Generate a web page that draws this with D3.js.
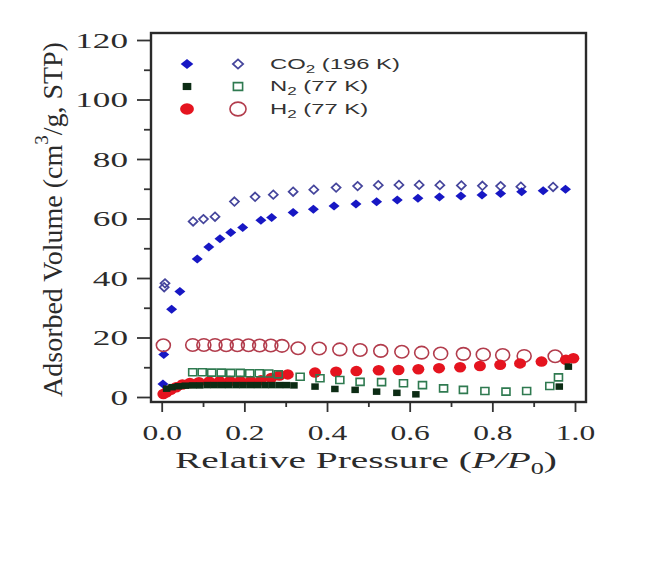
<!DOCTYPE html>
<html>
<head>
<meta charset="utf-8">
<script src="https://cdn.jsdelivr.net/npm/d3@7"></script>
<style>
  body { margin: 0; background: #fff; }
  svg { display: block; }
</style>
</head>
<body>
<svg id="chart" width="647" height="583"></svg>
<script>
// CO2 (196 K) adsorption / desorption
const co2AdsP = [0.003, 0.005, 0.024, 0.044, 0.086, 0.114, 0.141, 0.167, 0.196, 0.240, 0.266, 0.318, 0.367, 0.417, 0.470, 0.520, 0.570, 0.620, 0.672, 0.724, 0.775, 0.820, 0.871, 0.923, 0.977];
const co2AdsV = [4.4, 14.3, 29.5, 35.5, 46.4, 50.4, 53.2, 55.3, 57.0, 59.4, 60.3, 62.0, 63.1, 64.2, 64.9, 65.6, 66.2, 66.8, 67.2, 67.6, 67.9, 68.4, 69.0, 69.3, 69.8];
const co2DesP = [0.006, 0.008, 0.076, 0.101, 0.129, 0.176, 0.226, 0.270, 0.318, 0.368, 0.422, 0.474, 0.524, 0.574, 0.623, 0.673, 0.725, 0.776, 0.820, 0.869, 0.947];
const co2DesV = [36.9, 38.2, 59.0, 59.8, 60.6, 65.7, 67.3, 68.0, 69.0, 69.7, 70.4, 70.9, 71.2, 71.3, 71.3, 71.2, 71.1, 71.0, 70.9, 70.7, 70.6];

// N2 (77 K)
const n2AdsP = [0.012, 0.025, 0.040, 0.057, 0.075, 0.092, 0.110, 0.127, 0.145, 0.162, 0.180, 0.197, 0.215, 0.232, 0.250, 0.267, 0.285, 0.302, 0.320, 0.371, 0.419, 0.468, 0.520, 0.569, 0.615, 0.962, 0.984];
const n2AdsV = [2.8, 3.3, 3.6, 3.8, 3.9, 3.9, 4.0, 4.0, 4.0, 4.0, 4.0, 4.0, 4.0, 4.0, 4.0, 4.0, 4.0, 4.0, 3.9, 3.5, 2.7, 2.4, 1.8, 1.4, 0.9, 3.5, 10.2];
const n2DesP = [0.075, 0.098, 0.121, 0.144, 0.167, 0.190, 0.213, 0.236, 0.259, 0.282, 0.335, 0.383, 0.431, 0.480, 0.532, 0.585, 0.631, 0.682, 0.730, 0.782, 0.833, 0.883, 0.939, 0.960];
const n2DesV = [8.3, 8.3, 8.2, 8.2, 8.1, 8.1, 8.0, 8.0, 7.9, 7.6, 6.8, 6.3, 5.7, 5.1, 5.0, 4.6, 4.0, 2.9, 2.4, 2.0, 1.8, 2.0, 3.7, 6.6];

// H2 (77 K)
const h2AdsP = [0.004, 0.012, 0.022, 0.035, 0.050, 0.068, 0.090, 0.115, 0.140, 0.165, 0.190, 0.215, 0.240, 0.265, 0.285, 0.305, 0.371, 0.422, 0.471, 0.525, 0.573, 0.621, 0.671, 0.722, 0.770, 0.819, 0.867, 0.919, 0.978, 0.996];
const h2AdsV = [1.0, 1.6, 2.4, 3.3, 4.2, 4.7, 5.0, 5.2, 5.3, 5.4, 5.4, 5.4, 5.6, 6.4, 7.2, 7.6, 8.2, 8.5, 8.7, 9.0, 9.1, 9.3, 9.7, 10.0, 10.4, 10.8, 11.3, 11.9, 12.5, 13.0];
const h2DesP = [0.004, 0.075, 0.102, 0.129, 0.156, 0.183, 0.210, 0.237, 0.264, 0.291, 0.330, 0.381, 0.431, 0.480, 0.530, 0.581, 0.629, 0.675, 0.730, 0.778, 0.825, 0.877, 0.952];
const h2DesV = [17.4, 17.5, 17.5, 17.5, 17.4, 17.4, 17.4, 17.3, 17.3, 17.2, 16.4, 16.3, 16.0, 15.8, 15.5, 15.2, 14.9, 14.6, 14.5, 14.3, 14.1, 13.8, 13.7];

const xTicks = [0, 0.2, 0.4, 0.6, 0.8, 1.0];
const xMinor = [0.1, 0.3, 0.5, 0.7, 0.9];
const yTicks = [0, 20, 40, 60, 80, 100, 120];
const yMinor = [10, 30, 50, 70, 90, 110];

const legendRows = [
    { gas: "CO", sub: "2", temp: " (196 K)" },
    { gas: "N", sub: "2", temp: " (77 K)" },
    { gas: "H", sub: "2", temp: " (77 K)" }
];

const SERIF = "'Liberation Serif', 'Times New Roman', serif";
const SANS = "'Liberation Sans', Arial, sans-serif";

const svg = d3.select("#chart");
const frame = { left: 151, right: 586, top: 33, bottom: 402 };
const x = d3.scaleLinear().domain([0, 1]).range([161.7, 575]);
const y = d3.scaleLinear().domain([0, 120]).range([397, 40]);

// marker shapes, all as paths centred on 0,0
const shapes = {
    diamond: (w, h) => `M0,${-h / 2}L${w / 2},0L0,${h / 2}L${-w / 2},0Z`,
    square: (w, h) => `M${-w / 2},${-h / 2}h${w}v${h}h${-w}Z`,
    circle: (w, h) => {
        const rx = w / 2, ry = h / 2;
        return `M${-rx},0a${rx},${ry} 0 1,0 ${2 * rx},0a${rx},${ry} 0 1,0 ${-2 * rx},0Z`;
    }
};

const styles = {
    co2Ads: { shape: "diamond", w: 11, h: 9, fill: "#1717c4", stroke: "none", sw: 0 },
    co2Des: { shape: "diamond", w: 9, h: 8.5, fill: "none", stroke: "#45459c", sw: 1.7 },
    n2Ads: { shape: "square", w: 7.5, h: 6.5, fill: "#0c2c14", stroke: "none", sw: 0 },
    n2Des: { shape: "square", w: 8, h: 7, fill: "none", stroke: "#2f7a50", sw: 1.6 },
    h2Ads: { shape: "circle", w: 12, h: 10.5, fill: "#e5141f", stroke: "none", sw: 0 },
    h2Des: { shape: "circle", w: 14, h: 12.5, fill: "none", stroke: "#b23c4c", sw: 1.6 }
};

function stretchAbout(sel, factor, ax) {
    sel.attr("transform", `translate(${ax},0) scale(${factor},1) translate(${-ax},0)`);
}

// ---- axes ----
function styleAxis(g, size) {
    g.select(".domain").remove();
    g.attr("color", "#333")
        .attr("font-family", SERIF)
        .attr("font-size", size);
    g.selectAll("line").attr("stroke-width", 1.8);
    g.selectAll("text").attr("fill", "#2b2b2b");
}

const yAxis = svg.append("g")
    .attr("transform", `translate(${frame.left},0)`)
    .call(d3.axisLeft(y).tickValues(yTicks).tickSize(14).tickPadding(9).tickFormat(d3.format("d")))
    .call(styleAxis, 22);
yAxis.selectAll("text").each(function () {
    stretchAbout(d3.select(this), 1.6, -23);
});
svg.append("g")
    .attr("transform", `translate(${frame.left},0)`)
    .call(d3.axisLeft(y).tickValues(yMinor).tickSize(7).tickFormat(""))
    .call(styleAxis, 22);

const xAxis = svg.append("g")
    .attr("transform", `translate(0,${frame.bottom})`)
    .call(d3.axisBottom(x).tickValues(xTicks).tickSize(10).tickPadding(13).tickFormat(d3.format(".1f")))
    .call(styleAxis, 21);
xAxis.selectAll("text").each(function () {
    stretchAbout(d3.select(this), 1.5, 0);
});
svg.append("g")
    .attr("transform", `translate(0,${frame.bottom})`)
    .call(d3.axisBottom(x).tickValues(xMinor).tickSize(5).tickFormat(""))
    .call(styleAxis, 21);

// ---- series ----
function drawSeries(ps, vs, st) {
    svg.append("g")
        .selectAll("path")
        .data(d3.zip(ps, vs))
        .join("path")
        .attr("transform", d => `translate(${x(d[0])},${y(d[1])})`)
        .attr("d", shapes[st.shape](st.w, st.h))
        .attr("fill", st.fill)
        .attr("stroke", st.stroke)
        .attr("stroke-width", st.sw);
}

drawSeries(co2DesP, co2DesV, styles.co2Des);
drawSeries(co2AdsP, co2AdsV, styles.co2Ads);
drawSeries(h2DesP, h2DesV, styles.h2Des);
drawSeries(h2AdsP, h2AdsV, styles.h2Ads);
drawSeries(n2DesP, n2DesV, styles.n2Des);
drawSeries(n2AdsP, n2AdsV, styles.n2Ads);

// frame
svg.append("rect")
    .attr("x", frame.left)
    .attr("y", frame.top)
    .attr("width", frame.right - frame.left)
    .attr("height", frame.bottom - frame.top)
    .attr("fill", "none")
    .attr("stroke", "#2a2a2a")
    .attr("stroke-width", 2.4);

// ---- legend ----
const legendStyles = [
    [styles.co2Ads, styles.co2Des],
    [styles.n2Ads, styles.n2Des],
    [styles.h2Ads, styles.h2Des]
];
const legend = svg.append("g");
let legendScale = null;
legendRows.forEach((row, i) => {
    const cy = 64 + i * 22.5;
    legendStyles[i].forEach((st, j) => {
        legend.append("path")
            .attr("transform", `translate(${187 + j * 51},${cy})`)
            .attr("d", shapes[st.shape](st.w * 1.15, st.h * 1.1))
            .attr("fill", st.fill)
            .attr("stroke", st.stroke)
            .attr("stroke-width", st.sw);
    });
    const t = legend.append("text")
        .attr("x", 270)
        .attr("y", cy + 5)
        .attr("font-family", SANS)
        .attr("font-size", 14)
        .attr("fill", "#333");
    t.append("tspan").text(row.gas);
    t.append("tspan").attr("font-size", 10).attr("dy", 4).text(row.sub);
    t.append("tspan").attr("dy", -4).text(row.temp);
    if (legendScale === null) legendScale = 130 / t.node().getBBox().width;
    stretchAbout(t, legendScale, 270);
});

// ---- titles ----
const xTitle = svg.append("text")
    .attr("x", 366)
    .attr("y", 468)
    .attr("text-anchor", "middle")
    .attr("font-family", SERIF)
    .attr("font-size", 24)
    .attr("fill", "#2b2b2b");
xTitle.append("tspan").text("Relative Pressure (");
xTitle.append("tspan").attr("font-style", "italic").text("P/P");
xTitle.append("tspan").attr("font-size", 16).attr("dy", 6).text("0");
xTitle.append("tspan").attr("dy", -6).text(")");
stretchAbout(xTitle, 382 / xTitle.node().getBBox().width, 366);

const yTitleG = svg.append("g").attr("transform", "translate(62,219.5) rotate(-90)");
const yTitle = yTitleG.append("text")
    .attr("text-anchor", "middle")
    .attr("font-family", SERIF)
    .attr("font-size", 28)
    .attr("fill", "#2b2b2b");
yTitle.append("tspan").text("Adsorbed Volume (cm");
yTitle.append("tspan").attr("font-size", 19).attr("dy", -14).text("3");
yTitle.append("tspan").attr("dy", 14).text("/g, STP)");
yTitle.attr("transform", `scale(${355 / yTitle.node().getBBox().width},1)`);
</script>
</body>
</html>
